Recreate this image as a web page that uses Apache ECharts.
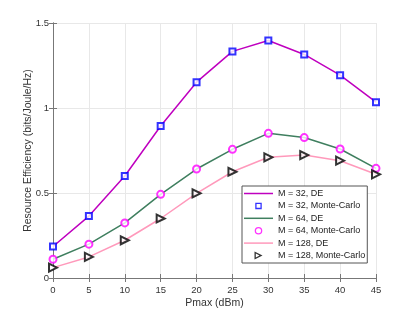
<!DOCTYPE html>
<html><head><meta charset="utf-8">
<script src="https://cdn.jsdelivr.net/npm/echarts@6/dist/echarts.min.js"></script>
<style>html,body{margin:0;padding:0;background:#fff}#c{width:415px;height:312px}</style>
</head><body><div id="c"></div>
<script>
const pmax = [0, 5, 10, 15, 20, 25, 30, 35, 40, 45];
const m32 = [0.185, 0.364, 0.600, 0.894, 1.152, 1.333, 1.397, 1.315, 1.193, 1.034];
const m64 = [0.110, 0.199, 0.324, 0.492, 0.641, 0.757, 0.851, 0.826, 0.759, 0.645];
const m128 = [0.061, 0.124, 0.222, 0.350, 0.498, 0.625, 0.710, 0.723, 0.690, 0.610];
const names = ['M = 32, DE', 'M = 32, Monte-Carlo', 'M = 64, DE', 'M = 64, Monte-Carlo', 'M = 128, DE', 'M = 128, Monte-Carlo'];

const pts = a => pmax.map((x, i) => [x, a[i]]);
const font = 'Liberation Sans, Arial, sans-serif';
const axisCol = '#777';
const anchors = 'M4.5,0 L4.5,0 Z M4.5,9 L4.5,9 Z M0,4.5 L0,4.5 Z M9,4.5 L9,4.5 Z ';
const icons = {
  line: 'path://M0,0 H29 V1.5 H0 Z',
  square: 'path://' + anchors + 'M1.25,1.25 H7.75 V7.75 H1.25 Z M2.55,2.55 V6.45 H6.45 V2.55 Z',
  circle: 'path://' + anchors + 'M4.5,0.7 A3.8,3.8 0 1,1 4.5,8.3 A3.8,3.8 0 1,1 4.5,0.7 Z M4.5,2 A2.5,2.5 0 1,0 4.5,7 A2.5,2.5 0 1,0 4.5,2 Z',
  tri: 'path://' + anchors + 'M0.5,0.5 L8.5,4.5 L0.5,8.5 Z M1.81,2.62 L1.81,6.38 L5.57,4.5 Z'
};
const legendIcons = [icons.line, icons.square, icons.line, icons.circle, icons.line, icons.tri];

const chart = echarts.init(document.getElementById('c'), null, {renderer: 'canvas'});
const baseAxis = {
  axisLine: {show: true, lineStyle: {color: axisCol, width: 1}},
  axisTick: {show: true, inside: true, length: 4, lineStyle: {color: axisCol}},
};
chart.setOption({
  animation: false,
  backgroundColor: '#fff',
  grid: {left: 53, right: 39, top: 23, bottom: 34, containLabel: false, outerBoundsMode: 'none'},
  xAxis: [
    Object.assign({}, baseAxis, {
      type: 'value', min: 0, max: 45, interval: 5, position: 'bottom',
      name: 'Pmax (dBm)', nameLocation: 'middle', nameGap: 20, nameMoveOverlap: false,
      nameTextStyle: {fontFamily: font, fontSize: 10.5, color: '#333'},
      axisLabel: {fontFamily: font, fontSize: 9.5, color: '#333', margin: 7},
      splitLine: {show: true, lineStyle: {color: '#e8e8e8', width: 1}}
    }),
    Object.assign({}, baseAxis, {
      type: 'value', min: 0, max: 45, interval: 5, position: 'top',
      axisLabel: {show: false}, splitLine: {show: false}
    })
  ],
  yAxis: [
    Object.assign({}, baseAxis, {
      type: 'value', min: 0, max: 1.5, interval: 0.5, position: 'left',
      name: 'Resource Efficiency (bits/Joule/Hz)', nameLocation: 'middle', nameGap: 19, nameMoveOverlap: false,
      nameTextStyle: {fontFamily: font, fontSize: 10.5, color: '#333'},
      axisLabel: {fontFamily: font, fontSize: 9.5, color: '#333', margin: 4},
      splitLine: {show: true, lineStyle: {color: '#e8e8e8', width: 1}}
    }),
    Object.assign({}, baseAxis, {
      type: 'value', min: 0, max: 1.5, interval: 0.5, position: 'right',
      axisLabel: {show: false}, splitLine: {show: false}
    })
  ],
  legend: {
    orient: 'vertical', left: 242, top: 186,
    itemWidth: 29, itemHeight: 9, itemGap: 0.4,
    padding: [1.5, 2, 1.5, 2],
    backgroundColor: '#fff', borderColor: '#555', borderWidth: 1, borderRadius: 0,
    itemStyle: {borderWidth: 0},
    textStyle: {fontFamily: font, fontSize: 9, color: '#222', lineHeight: 12},
    data: names.map((n, i) => ({name: n, icon: legendIcons[i]}))
  },
  series: [
    {name: names[0], type: 'line', data: pts(m32), showSymbol: false, symbol: 'none',
      lineStyle: {color: '#bf00bf', width: 1.5}, itemStyle: {color: '#bf00bf'}, z: 2},
    {name: names[1], type: 'scatter', data: pts(m32), symbol: 'emptyRect', symbolSize: 6,
      itemStyle: {color: '#0000ff', borderColor: '#0000ff', borderWidth: 1.4}, z: 3},
    {name: names[2], type: 'line', data: pts(m64), showSymbol: false, symbol: 'none',
      lineStyle: {color: '#3f7f5f', width: 1.5}, itemStyle: {color: '#3f7f5f'}, z: 2},
    {name: names[3], type: 'scatter', data: pts(m64), symbol: 'emptyCircle', symbolSize: 7,
      itemStyle: {color: '#ff00ff', borderColor: '#ff00ff', borderWidth: 1.4}, z: 3},
    {name: names[4], type: 'line', data: pts(m128), showSymbol: false, symbol: 'none',
      lineStyle: {color: '#ff99bb', width: 1.5}, itemStyle: {color: '#ff99bb'}, z: 2},
    {name: names[5], type: 'scatter', data: pts(m128), symbol: 'emptyTriangle', symbolSize: 8, symbolRotate: -90,
      itemStyle: {color: '#000', borderColor: '#000', borderWidth: 1.4}, z: 3}
  ]
});
</script></body></html>
